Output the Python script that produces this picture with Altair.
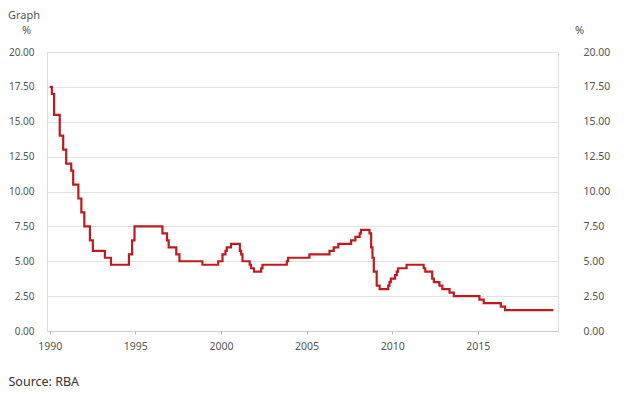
import altair as alt
import pandas as pd

# RBA cash rate target: dates of changes and new level (%)
change_dates = [
    "1990-01-01", "1990-02-15", "1990-04-04", "1990-08-02", "1990-10-15", "1990-12-18",
    "1991-04-04", "1991-05-16", "1991-09-03", "1991-11-06",
    "1992-01-08", "1992-05-06", "1992-07-08",
    "1993-03-23", "1993-07-30",
    "1994-08-17", "1994-10-24", "1994-12-14",
    "1996-07-31", "1996-11-06", "1996-12-11",
    "1997-05-23", "1997-07-30",
    "1998-12-02",
    "1999-11-03",
    "2000-02-02", "2000-04-05", "2000-05-03", "2000-08-02",
    "2001-02-07", "2001-03-07", "2001-04-04", "2001-09-05", "2001-10-03", "2001-12-05",
    "2002-05-08", "2002-06-05",
    "2003-11-05", "2003-12-03",
    "2005-03-02",
    "2006-05-03", "2006-08-02", "2006-11-08",
    "2007-08-08", "2007-11-07",
    "2008-02-06", "2008-03-05", "2008-09-03", "2008-10-08", "2008-11-05", "2008-12-03",
    "2009-02-04", "2009-04-08", "2009-10-07", "2009-11-04", "2009-12-02",
    "2010-03-03", "2010-04-07", "2010-05-05", "2010-11-03",
    "2011-11-02", "2011-12-07",
    "2012-05-02", "2012-06-06", "2012-10-03", "2012-12-05",
    "2013-05-08", "2013-08-07",
    "2015-02-04", "2015-05-06",
    "2016-05-04", "2016-08-03",
    "2019-05-31",
]
cash_rate = [
    17.5, 17.0, 15.5, 14.0, 13.0, 12.0,
    11.5, 10.5, 9.5, 8.5,
    7.5, 6.5, 5.75,
    5.25, 4.75,
    5.5, 6.5, 7.5,
    7.0, 6.5, 6.0,
    5.5, 5.0,
    4.75,
    5.0,
    5.5, 5.75, 6.0, 6.25,
    5.75, 5.5, 5.0, 4.75, 4.5, 4.25,
    4.5, 4.75,
    5.0, 5.25,
    5.5,
    5.75, 6.0, 6.25,
    6.5, 6.75,
    7.0, 7.25, 7.0, 6.0, 5.25, 4.25,
    3.25, 3.0, 3.25, 3.5, 3.75,
    4.0, 4.25, 4.5, 4.75,
    4.5, 4.25,
    3.75, 3.5, 3.25, 3.0,
    2.75, 2.5,
    2.25, 2.0,
    1.75, 1.5,
    1.5,
]
year_ticks = [1990, 1995, 2000, 2005, 2010, 2015]
rate_ticks = [0, 2.5, 5, 7.5, 10, 12.5, 15, 17.5, 20]

df = pd.DataFrame({"date": pd.to_datetime(change_dates), "rate": cash_rate})
df["year"] = df["date"].dt.year + (df["date"].dt.dayofyear - 1) / 365.25

FONT = "Noto Sans"
LABEL = "#555555"

xscale = alt.Scale(domain=[1989.84, 2019.68], nice=False, zero=False)
yscale = alt.Scale(domain=[0, 20], nice=False, zero=True)

x_enc = alt.X("year:Q", scale=xscale,
              axis=alt.Axis(values=year_ticks, format="d", grid=False, tickSize=3,
                            tickColor="#bbbbbb", domainColor="#cccccc", labelPadding=7,
                            labelFontSize=10.5, labelColor=LABEL, labelFont=FONT,
                            title="Source: RBA", titleX=-39, titleY=50, titleAlign="left",
                            titleBaseline="middle", titleFontSize=12.5, titleFontWeight="normal",
                            titleColor="#333333", titleFont=FONT))

base = alt.Chart(df)

line = base.mark_line(color="#bf1a1f", strokeWidth=2.2, interpolate="step-after").encode(
    x=x_enc,
    y=alt.Y("rate:Q", scale=yscale,
            axis=alt.Axis(orient="left", values=rate_ticks, format=".2f", grid=True,
                          gridColor="#e2e2e2", domain=False, ticks=False, labelPadding=13,
                          labelFontSize=10, labelColor=LABEL, labelFont=FONT,
                          title="%", titleAngle=0, titleX=-21, titleY=-22,
                          titleAlign="center", titleBaseline="middle", titleFontSize=11,
                          titleFontWeight="normal", titleColor=LABEL, titleFont=FONT)),
)

right = base.mark_line(opacity=0).encode(
    x=x_enc,
    y=alt.Y("rate:Q", scale=yscale,
            axis=alt.Axis(orient="right", values=rate_ticks, format=".2f", grid=False,
                          domain=False, ticks=False, labelPadding=25,
                          labelFontSize=10.5, labelColor=LABEL, labelFont=FONT,
                          title="%", titleAngle=0, titleX=21, titleY=-22,
                          titleAlign="center", titleBaseline="middle", titleFontSize=11,
                          titleFontWeight="normal", titleColor=LABEL, titleFont=FONT)),
)

chart = alt.layer(line, right).resolve_scale(y="independent").properties(
    width=511,
    height=279,
    autosize=alt.AutoSizeParams(type="none"),
    padding={"left": 39, "top": 44, "right": 76, "bottom": 62},
    title=alt.TitleParams("Graph", anchor="start", frame="group", dx=-39, dy=1, fontSize=11,
                          fontWeight="normal", color=LABEL, font=FONT),
).configure_view(stroke=None).configure(background="white")

chart.save("out.html", embed_options={"renderer": "svg", "actions": False})
